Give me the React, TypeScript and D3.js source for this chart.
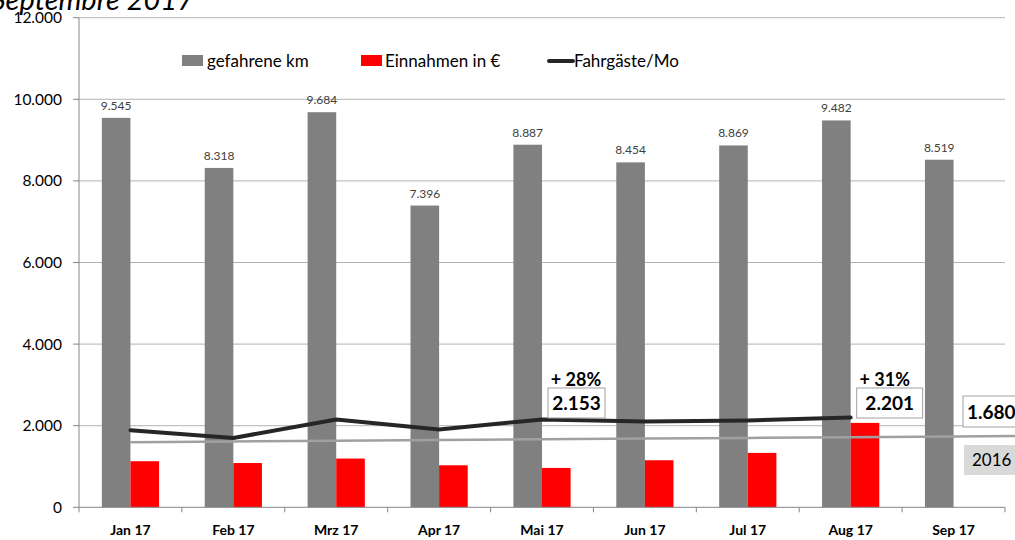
import React from "react";
import * as d3 from "d3";

const months = ["Jan 17", "Feb 17", "Mrz 17", "Apr 17", "Mai 17", "Jun 17", "Jul 17", "Aug 17", "Sep 17"];
const km = [9545, 8318, 9684, 7396, 8887, 8454, 8869, 9482, 8519];
const einnahmen = [1130, 1085, 1195, 1030, 965, 1153, 1333, 2069, 0];
const fahrgaeste = [1890, 1700, 2150, 1907, 2153, 2105, 2130, 2201];
const trend2016 = [1595, 1613, 1630, 1648, 1666, 1684, 1701, 1719, 1737];
const yTicks = [0, 2000, 4000, 6000, 8000, 10000, 12000];
const legendItems = ["gefahrene km", "Einnahmen in €", "Fahrgäste/Mo"];
const annotations = [
  { idx: 4, pct: "+ 28%", value: "2.153" },
  { idx: 7, pct: "+ 31%", value: "2.201" },
];
const endLabel = "1.680";
const yearLabel = "2016";
const title = "Septembre 2017";

const W = 1015;
const H = 540;
const left = 79;
const right = 1005;
const top = 17.7;
const bottom = 507.3;
const FONT = "Lato, 'Open Sans', sans-serif";

const fmt = (v: number) => d3.format(",")(v).replace(/,/g, ".");

export default function App() {
  const x = d3.scaleBand<string>().domain(months).range([left, right]).padding(0);
  const y = d3.scaleLinear().domain([0, 12000]).range([bottom, top]);
  const bw = x.bandwidth();
  const barW = bw * 0.278;
  const cx = (m: string) => (x(m) as number) + bw / 2;

  const line = d3
    .line<number>()
    .x((_, i) => cx(months[i]))
    .y((d) => y(d));

  const n = trend2016.length;
  const slope = (trend2016[n - 1] - trend2016[n - 2]) / bw;
  const trendPts: [number, number][] = trend2016.map((v, i) => [cx(months[i]), y(v)]);
  const xEnd = W;
  trendPts.push([xEnd, y(trend2016[n - 1] + slope * (xEnd - cx(months[n - 1])))]);
  const trendPath = d3.line()(trendPts) as string;

  const legendX = [182, 361, 549];

  return (
    <svg
      width={W}
      height={H}
      style={{ position: "absolute", left: 0, top: 0, background: "#fff" }}
      fontFamily={FONT}
    >
      <rect x={0} y={0} width={W} height={H} fill="#fff" />
      {/* title */}
      <text x={194} y={10} textAnchor="end" fontSize={29} fontStyle="italic" fill="#000">
        {title}
      </text>
      {/* gridlines */}
      {yTicks.map((t) => (
        <g key={t}>
          {t > 0 && <line x1={left} x2={right} y1={y(t)} y2={y(t)} stroke="#b3b3b3" strokeWidth={1} />}
          <line x1={left - 6} x2={left} y1={y(t)} y2={y(t)} stroke="#868686" strokeWidth={1} />
          <text x={62} y={y(t)} dy="0.35em" textAnchor="end" fontSize={15.5} fill="#000">
            {fmt(t)}
          </text>
        </g>
      ))}
      {/* bars */}
      {months.map((m, i) => (
        <g key={m}>
          <rect x={cx(m) - barW} y={y(km[i])} width={barW} height={bottom - y(km[i])} fill="#808080" />
          {einnahmen[i] > 0 && (
            <rect x={cx(m)} y={y(einnahmen[i])} width={barW} height={bottom - y(einnahmen[i])} fill="#ff0000" />
          )}
          <text x={cx(m) - barW / 2} y={y(km[i]) - 8} textAnchor="middle" fontSize={12} fill="#404040">
            {fmt(km[i])}
          </text>
        </g>
      ))}
      {/* 2016 trend line */}
      <path d={trendPath} fill="none" stroke="#a0a0a0" strokeWidth={2.5} />
      {/* fahrgaeste line */}
      <path d={line(fahrgaeste) as string} fill="none" stroke="#262626" strokeWidth={4} strokeLinejoin="round" strokeLinecap="round" />
      {/* axes */}
      <line x1={left} x2={left} y1={top} y2={bottom} stroke="#868686" strokeWidth={1} />
      <line x1={left} x2={right} y1={bottom} y2={bottom} stroke="#868686" strokeWidth={1} />
      {months.map((m) => (
        <line key={"t" + m} x1={x(m) as number} x2={x(m) as number} y1={bottom} y2={bottom + 5} stroke="#868686" />
      ))}
      <line x1={right} x2={right} y1={bottom} y2={bottom + 5} stroke="#868686" />
      {months.map((m) => (
        <text key={"l" + m} x={cx(m)} y={530} dy="0.35em" textAnchor="middle" fontSize={14} fontWeight="bold" fill="#000">
          {m}
        </text>
      ))}
      {/* annotations */}
      {annotations.map((a) => {
        const c = cx(months[a.idx]) + 6;
        const w = a.idx === 7 ? 66 : 57;
        return (
          <g key={a.value}>
            <text x={c + 28} y={380} dy="0.35em" textAnchor="middle" fontSize={18} fontWeight="bold" fill="#000">
              {a.pct}
            </text>
            <rect x={c} y={388} width={w} height={30} fill="#fff" stroke="#a0a0a0" />
            <text x={c + w / 2} y={403} dy="0.35em" textAnchor="middle" fontSize={19} fontWeight="bold" fill="#000">
              {a.value}
            </text>
          </g>
        );
      })}
      <rect x={963} y={396} width={60} height={31} fill="#fff" stroke="#a0a0a0" />
      <text x={967} y={412} dy="0.35em" fontSize={19} fontWeight="bold" fill="#000">
        {endLabel}
      </text>
      <rect x={964} y={445} width={60} height={30} fill="#d9d9d9" />
      <text x={972} y={460} dy="0.35em" fontSize={17} fill="#000">
        {yearLabel}
      </text>
      {/* legend */}
      <rect x={legendX[0]} y={55} width={21} height={11} fill="#808080" />
      <text x={legendX[0] + 25} y={61} dy="0.35em" fontSize={17} fill="#000">
        {legendItems[0]}
      </text>
      <rect x={legendX[1]} y={55} width={21} height={11} fill="#ff0000" />
      <text x={legendX[1] + 24} y={61} dy="0.35em" fontSize={17} fill="#000">
        {legendItems[1]}
      </text>
      <line x1={legendX[2]} x2={legendX[2] + 24} y1={61} y2={61} stroke="#262626" strokeWidth={4} strokeLinecap="round" />
      <text x={legendX[2] + 25} y={61} dy="0.35em" fontSize={17} fill="#000">
        {legendItems[2]}
      </text>
    </svg>
  );
}
